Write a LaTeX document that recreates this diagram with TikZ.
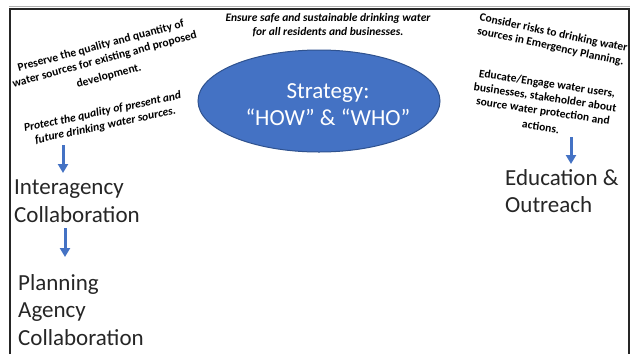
\documentclass[tikz,border=0pt]{standalone}
\usepackage{fontspec}
\setmainfont{Carlito}
\usetikzlibrary{shapes.geometric,arrows.meta}
\definecolor{accblue}{HTML}{4472C4}
\definecolor{accedge}{HTML}{2F528F}
\definecolor{framec}{HTML}{262626}
\definecolor{textc}{HTML}{262626}
\begin{document}
\begin{tikzpicture}[x=1pt,y=-1pt,
  goal/.style={font=\fontsize{11.5}{14}\selectfont\bfseries, align=center, inner sep=0pt, text=black},
  goalit/.style={goal, font=\fontsize{11.5}{14}\selectfont\bfseries\itshape},
  big/.style={font=\fontsize{23}{27.5}\selectfont, align=left, inner sep=0pt, anchor=north west, text=textc},
  flowarrow/.style={accblue, line width=3pt, -{Triangle[width=10pt,length=9pt]}},
  ]
\useasboundingbox (0,0) rectangle (630,354);
\fill[white] (0,0) rectangle (630,354);
\draw[gray!60, line width=1.5pt] (9,6.5) -- (630,6.5);
\draw[framec, line width=2pt] (10,354) -- (10,8.5) -- (629,8.5) -- (629,354);

\node[ellipse, draw=accedge, line width=1pt, fill=accblue, minimum width=242pt, minimum height=102pt,
      inner sep=0pt] (strat) at (319,101) {};
\node[text=white, font=\fontsize{23}{27}\selectfont, align=center, inner sep=0pt] (stratlabel) at (328,105)
      {Strategy:\\“HOW” \& “WHO”};

\node[goalit] (ensure) at (328,25)
  {Ensure safe and sustainable drinking water\\for all residents and businesses.};

\node[goal, rotate=15] (preserve) at (105,61)
  {Preserve the quality and quantity of\\water sources for existing and proposed\\[3pt]development.};
\node[goalit, rotate=12] (protect) at (104,119)
  {Protect the quality of present and\\future drinking water sources.};

\node[goal, rotate=-12] (consider) at (552,40)
  {Consider risks to drinking water\\sources in Emergency Planning.};
\node[goal, rotate=-8.5] (educate) at (544,105)
  {Educate/Engage water users,\\businesses, stakeholder about\\source water protection and\\[2pt]actions.};

\node[big] (inter) at (14,180) {Interagency\\Collaboration};
\node[big] (plan) at (18,274) {Planning\\Agency\\Collaboration};
\node[big] (edu) at (505,169) {Education \&\\Outreach};

\coordinate (a1s) at (63,145);
\coordinate (a1e) at (63,173);
\coordinate (a2s) at (65,228);
\coordinate (a2e) at (65,257);
\coordinate (a3s) at (571,137);
\coordinate (a3e) at (571,164);
\draw[flowarrow] (a1s) -- (a1e);
\draw[flowarrow] (a2s) -- (a2e);
\draw[flowarrow] (a3s) -- (a3e);
\end{tikzpicture}
\end{document}
